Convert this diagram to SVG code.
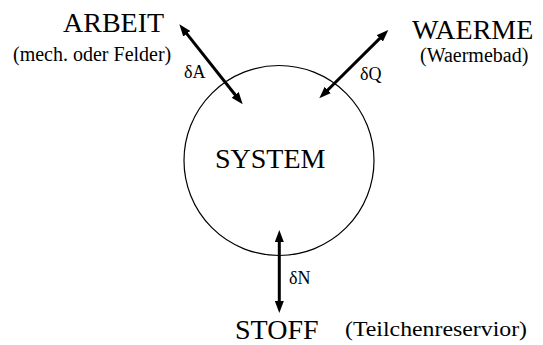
<svg xmlns="http://www.w3.org/2000/svg" width="543" height="345" viewBox="0 0 543 345" font-family="'Liberation Serif', 'Times New Roman', 'DejaVu Serif', serif">
<style>
text { font-family: 'Liberation Serif', 'Times New Roman', 'DejaVu Serif', serif; fill: #000; }
.big { font-size: 28px; }
.sub { font-size: 20px; }
.lbl { font-size: 18px; }
.arrow { stroke: #000; stroke-width: 3; fill: none; marker-start: url(#ah); marker-end: url(#ah); }
</style>
<defs>
<marker id="ah" markerUnits="userSpaceOnUse" markerWidth="12" markerHeight="10" refX="4" refY="4.5" orient="auto-start-reverse">
<path d="M0,0 L12,4.5 L0,9 z" fill="#000"/>
</marker>
</defs>
<rect width="543" height="345" fill="#fff"/>
<g id="system">
<circle cx="279" cy="160.5" r="95" fill="none" stroke="#000" stroke-width="1.2"/>
<text class="big" x="215" y="168">SYSTEM</text>
</g>
<g id="arbeit">
<text class="big" x="63" y="32">ARBEIT</text>
<text class="sub" x="13" y="61">(mech. oder Felder)</text>
</g>
<g id="waerme">
<text class="big" x="412" y="39">WAERME</text>
<text class="sub" x="420" y="62">(Waermebad)</text>
</g>
<g id="stoff">
<text class="big" x="235" y="338.5">STOFF</text>
<text class="sub" x="345" y="336" textLength="182" lengthAdjust="spacingAndGlyphs">(Teilchenreservior)</text>
</g>
<g id="connectors">
<line class="arrow" x1="184.3" y1="30.6" x2="237.7" y2="98"/>
<line class="arrow" x1="382.6" y1="35.6" x2="325" y2="92.7"/>
<line class="arrow" x1="279.3" y1="238" x2="279.3" y2="305"/>
<text class="lbl" x="184" y="78">δA</text>
<text class="lbl" x="360" y="80">δQ</text>
<text class="lbl" x="289" y="284">δN</text>
</g>
</svg>
